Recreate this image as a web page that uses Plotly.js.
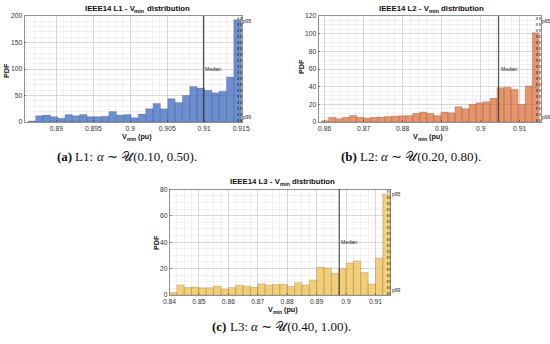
<!DOCTYPE html>
<html><head><meta charset="utf-8">
<script src="https://cdn.plot.ly/plotly-3.0.1.min.js"></script>
<style>html,body{margin:0;padding:0;background:#fff}#chart{width:550px;height:344px}</style>
</head><body><div id="chart"></div>
<script>
// ---------- data ----------
const l1BinStart = 0.8862, l1BinWidth = 0.000993;
const l1Values = [2, 12, 13, 10, 7, 14, 12, 14, 10, 10, 11, 20, 13, 14, 8, 15, 25, 35, 25, 44, 37, 50, 67, 64, 60, 55, 58, 85, 193];
const l1Median = 0.9099, l1P95 = 0.9146, l1P99 = 0.9150;

const l2BinStart = 0.8592, l2BinWidth = 0.0018;
const l2Values = [1.5, 5.5, 3.8, 5.3, 7.3, 5.3, 4.5, 5.5, 5.7, 6.3, 6.8, 7.2, 7.5, 9.8, 11.3, 9.8, 7.5, 11.3, 10.6, 17.4, 15.1, 20, 21.9, 23, 26.8, 38.9, 39.2, 37, 20, 40.8, 101];
const l2Median = 0.90458, l2P95 = 0.91444, l2P99 = 0.9152;

const l3BinStart = 0.84, l3BinWidth = 0.0025;
const l3Values = [1.8, 7.6, 5.6, 6, 5.4, 5.5, 6.8, 4.5, 5.6, 7.3, 6.8, 6, 8.6, 7.6, 8, 8.2, 6.4, 9.3, 7.6, 11.4, 21, 20.5, 16.4, 19.8, 24.2, 25.8, 17, 8.3, 28, 76.5];
const l3Median = 0.8977, l3P95 = 0.9142, l3P99 = 0.9150;

const l1XTicks = [0.89, 0.895, 0.9, 0.905, 0.91, 0.915];
const l1XLabels = ["0.89", "0.895", "0.9", "0.905", "0.91", "0.915"];
const l2XTicks = [0.86, 0.87, 0.88, 0.89, 0.9, 0.91];
const l2XLabels = ["0.86", "0.87", "0.88", "0.89", "0.9", "0.91"];
const l3XTicks = [0.84, 0.85, 0.86, 0.87, 0.88, 0.89, 0.9, 0.91];
const l3XLabels = ["0.84", "0.85", "0.86", "0.87", "0.88", "0.89", "0.9", "0.91"];
const l1YTicks = [0, 50, 100, 150, 200];
const l2YTicks = [0, 20, 40, 60, 80, 100, 120];
const l3YTicks = [0, 20, 40, 60, 80];

const caseNames = ["L1", "L2", "L3"];
const captionTags = ["(a)", "(b)", "(c)"];
const alphaRanges = ["(0.10, 0.50).", "(0.20, 0.80).", "(0.40, 1.00)."];
const yLabel = "PDF";

// ---------- styling ----------
const W = 550, H = 344;
const SANS = '"Liberation Sans", Arial, sans-serif';
const SERIF = '"Liberation Serif", "Times New Roman", serif';
const colors = ["rgba(50,100,190,0.72)", "rgba(222,108,52,0.72)", "rgba(238,188,66,0.72)"];
const px = v => v / W, py = v => 1 - v / H;

function centers(start, width, vals) { return vals.map((v, i) => start + (i + 0.5) * width); }
function barTrace(start, width, vals, color, xa, ya) {
  return { type: 'bar', x: centers(start, width, vals), y: vals, width: width,
    marker: { color: color, line: { color: 'rgba(40,40,40,0.35)', width: 0.5 } },
    xaxis: xa, yaxis: ya, hoverinfo: 'skip' };
}
const data = [
  barTrace(l1BinStart, l1BinWidth, l1Values, colors[0], 'x', 'y'),
  barTrace(l2BinStart, l2BinWidth, l2Values, colors[1], 'x2', 'y2'),
  barTrace(l3BinStart, l3BinWidth, l3Values, colors[2], 'x3', 'y3')
];

const gridMajor = '#c4c4c4', gridMinor = '#e6e6e6', axisCol = '#4a4a4a';
function common(minorDt) {
  return { showgrid: true, gridcolor: gridMajor, gridwidth: 0.6, zeroline: false,
    minor: { tickmode: 'linear', tick0: 0, dtick: minorDt, showgrid: true, gridcolor: gridMinor, gridwidth: 0.5 },
    showline: true, mirror: true, linecolor: axisCol, linewidth: 0.6,
    ticks: 'inside', ticklen: 2, tickcolor: axisCol, tickwidth: 0.6,
    tickfont: { family: SANS, size: 6.8, color: '#333' }, fixedrange: true };
}
function xax(domain, range, ticks, labels, minorDt, anchor) {
  return Object.assign(common(minorDt), { domain: domain, range: range, anchor: anchor, tickmode: 'array', tickvals: ticks, ticktext: labels });
}
function yax(domain, range, ticks, minorDt, anchor) {
  return Object.assign(common(minorDt), { domain: domain, range: range, anchor: anchor, tickmode: 'array', tickvals: ticks });
}

const topDom = [py(122), py(16)];
const botDom = [py(295), py(189.3)];

const shapes = [], annotations = [];
function refLines(xa, ya, med, p95, p99, ymax) {
  shapes.push({ type: 'line', xref: xa, yref: ya + ' domain', x0: med, x1: med, y0: 0, y1: 1,
    line: { color: 'rgba(55,55,55,0.85)', width: 1.2 } });
  [p95, p99].forEach(v => shapes.push({ type: 'line', xref: xa, yref: ya + ' domain', x0: v, x1: v, y0: 0, y1: 1,
    line: { color: '#111', width: 0.7, dash: 'dot' } }));
  annotations.push({ xref: xa, yref: ya, x: med, y: ymax / 2, xanchor: 'left', yanchor: 'middle', text: 'Median',
    showarrow: false, font: { family: SANS, size: 5, color: '#222' } });
  annotations.push({ xref: xa, yref: ya + ' domain', x: p99, y: 1, xanchor: 'left', yanchor: 'top', text: 'p95',
    showarrow: false, font: { family: SANS, size: 5, color: '#222' } });
  annotations.push({ xref: xa, yref: ya + ' domain', x: p99, y: 0, xanchor: 'left', yanchor: 'bottom', text: 'p99',
    showarrow: false, font: { family: SANS, size: 5, color: '#222' } });
}
refLines('x', 'y', l1Median, l1P95, l1P99, 200);
refLines('x2', 'y2', l2Median, l2P95, l2P99, 120);
refLines('x3', 'y3', l3Median, l3P95, l3P99, 80);

// rich text made of plain pieces placed side by side (measured with canvas)
const ctx = document.createElement('canvas').getContext('2d');
function measure(t, p, family) {
  ctx.font = (p.style || 'normal') + ' ' + (p.weight || 'normal') + ' ' + p.size + 'px ' + family;
  return ctx.measureText(t).width;
}
function richText(pieces, cx, cy, family, color) {
  const ws = pieces.map(p => measure(p.text, p, family));
  const total = ws.reduce((a, b) => a + b, 0);
  let x = cx - total / 2;
  pieces.forEach((p, i) => {
    const trimmed = p.text.replace(/^\s+/, '');
    const lead = p.text.length - trimmed.length;
    const leadW = lead ? measure(p.text.slice(0, lead), p, family) : 0;
    annotations.push({ xref: 'paper', yref: 'paper', x: px(x + leadW), y: py(cy + (p.dy || 0)),
      xanchor: 'left', yanchor: 'middle', text: trimmed.replace(/\s+$/, ''), showarrow: false, borderpad: 0,
      font: { family: family, size: p.size, weight: p.weight || 'normal', style: p.style || 'normal', color: color } });
    x += ws[i];
  });
}
function plainText(text, x, y, size, opts) {
  annotations.push(Object.assign({ xref: 'paper', yref: 'paper', x: px(x), y: py(y), xanchor: 'center', yanchor: 'middle',
    text: text, showarrow: false, font: { family: SANS, size: size, weight: 'bold', color: '#111' } }, opts || {}));
}

// titles
const titlePos = [[136, 8], [430.5, 8], [281.5, 181]];
caseNames.forEach((n, i) => richText([
  { text: 'IEEE14 ' + n + ' - V', size: 7.8, weight: 'bold' },
  { text: 'min', size: 5.6, weight: 'bold', dy: 2.6 },
  { text: ' distribution', size: 7.8, weight: 'bold' }
], titlePos[i][0], titlePos[i][1], SANS, '#111'));
// y labels
plainText(yLabel, 6, 71, 7.2, { textangle: -90 });
plainText(yLabel, 301, 67, 7.2, { textangle: -90 });
plainText(yLabel, 156, 243, 7.2, { textangle: -90 });
// x labels
const xLabPos = [[136, 136.5], [426.5, 136.5], [282, 309.5]];
xLabPos.forEach(p => richText([
  { text: 'V', size: 7.2, weight: 'bold' },
  { text: 'min', size: 5.2, weight: 'bold', dy: 2.4 },
  { text: ' (pu)', size: 7.2, weight: 'bold' }
], p[0], p[1], SANS, '#111'));
// captions
const capPos = [[126, 157], [410, 157], [281, 326]];
caseNames.forEach((n, i) => richText([
  { text: captionTags[i], size: 13, weight: 'bold' },
  { text: ' ' + n + ': ', size: 13 },
  { text: 'α', size: 13, style: 'italic' },
  { text: ' ∼ 𝒰' + alphaRanges[i], size: 13 }
], capPos[i][0], capPos[i][1], SERIF, '#111'));

const layout = {
  width: W, height: H, margin: { l: 0, r: 0, t: 0, b: 0 },
  paper_bgcolor: '#fff', plot_bgcolor: '#fff', showlegend: false, barmode: 'overlay', bargap: 0,
  xaxis: xax([px(24.3), px(242.5)], [0.88565, 0.91518], l1XTicks, l1XLabels, 0.001, 'y'),
  yaxis: yax(topDom, [0, 200], l1YTicks, 10, 'x'),
  xaxis2: xax([px(318.3), px(541)], [0.85836, 0.91546], l2XTicks, l2XLabels, 0.002, 'y2'),
  yaxis2: yax(topDom, [0, 120], l2YTicks, 5, 'x2'),
  xaxis3: xax([px(169.5), px(390.5)], [0.84, 0.9151], l3XTicks, l3XLabels, 0.0025, 'y3'),
  yaxis3: yax(botDom, [0, 80], l3YTicks, 5, 'x3'),
  shapes: shapes, annotations: annotations
};
Plotly.newPlot('chart', data, layout, { staticPlot: true, displayModeBar: false });
</script>
</body></html>
